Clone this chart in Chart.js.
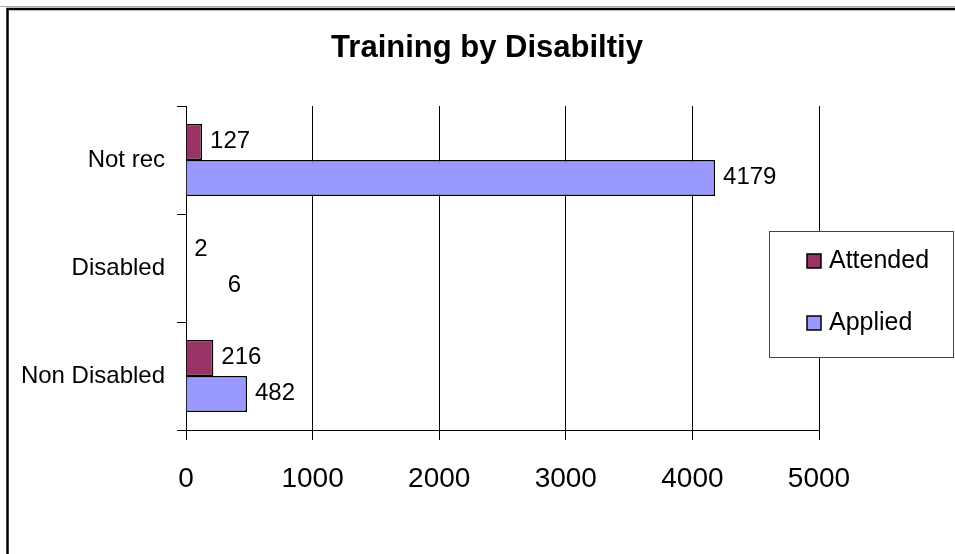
<!DOCTYPE html>
<html>
<head>
<meta charset="utf-8">
<script src="https://cdn.jsdelivr.net/npm/chart.js@4/dist/chart.umd.min.js"></script>
<style>
  html, body { margin: 0; padding: 0; background: #fff; overflow: hidden; }
  #wrap { width: 955px; height: 554px; }
</style>
</head>
<body>
<div id="wrap"><canvas id="myChart" width="955" height="554"></canvas></div>
<script>
// chart values
var categories = ['Not rec', 'Disabled', 'Non Disabled'];
var attended = [127, 2, 216];
var applied = [4179, 6, 482];
var xTicks = [0, 1000, 2000, 3000, 4000, 5000];
var title = 'Training by Disabiltiy';

var FONT = "'Liberation Sans', Arial, sans-serif";

// frame round the whole chart (only top and left are in view) + title
var framePlugin = {
    id: 'frame',
    beforeDraw: (chart) => {
        var ctx = chart.ctx;
        ctx.save();
        ctx.fillStyle = '#fff';
        ctx.fillRect(0, 0, chart.width, chart.height);
        ctx.strokeStyle = '#aaa';
        ctx.lineWidth = 1;
        ctx.beginPath();
        ctx.moveTo(0, 6.5); ctx.lineTo(chart.width, 6.5);
        ctx.stroke();
        ctx.strokeStyle = '#000';
        ctx.lineWidth = 2.5;
        ctx.beginPath();
        ctx.moveTo(chart.width, 9);
        ctx.lineTo(7.5, 9);
        ctx.lineTo(7.5, chart.height);
        ctx.stroke();
        // title is centred over the whole frame, not the plot
        ctx.fillStyle = '#000';
        ctx.font = 'bold 31px ' + FONT;
        ctx.textAlign = 'center';
        ctx.textBaseline = 'alphabetic';
        ctx.fillText(title, 487, 57);
        ctx.restore();
    }
};

// value labels at the end of each bar
// (Excel pushed the tiny "6" label further right; nudge it the same way)
var labelNudge = { '1,1': 33 };
var valuePlugin = {
    id: 'values',
    afterDatasetsDraw: (chart) => {
        var ctx = chart.ctx;
        ctx.save();
        ctx.font = '24px ' + FONT;
        ctx.fillStyle = '#000';
        ctx.textAlign = 'left';
        ctx.textBaseline = 'middle';
        chart.data.datasets.forEach((ds, i) => {
            chart.getDatasetMeta(i).data.forEach((bar, j) => {
                var dx = labelNudge[i + ',' + j] || 0;
                ctx.fillText(String(ds.data[j]), bar.x + 8 + dx, bar.y - 1);
            });
        });
        ctx.restore();
    }
};

// boxed legend sitting over the right part of the plot
var legendBox = {
    id: 'legendBox',
    afterDraw: (chart) => {
        var ctx = chart.ctx;
        var x = 769, y = 231, w = 184, h = 126;
        ctx.save();
        ctx.fillStyle = '#fff';
        ctx.fillRect(x, y, w, h);
        ctx.strokeStyle = '#444';
        ctx.lineWidth = 1;
        ctx.strokeRect(x + 0.5, y + 0.5, w, h);
        ctx.font = '25px ' + FONT;
        ctx.textAlign = 'left';
        ctx.textBaseline = 'middle';
        chart.data.datasets.forEach((ds, i) => {
            var cy = y + 30 + i * 62;
            ctx.fillStyle = ds.backgroundColor;
            ctx.fillRect(807, cy - 7, 14, 14);
            ctx.strokeStyle = '#000';
            ctx.lineWidth = 1.5;
            ctx.strokeRect(807, cy - 7, 14, 14);
            ctx.fillStyle = '#000';
            ctx.fillText(ds.label, 829, cy);
        });
        ctx.restore();
    }
};

var ctx = document.getElementById('myChart').getContext('2d');
var chart = new Chart(ctx, {
    type: 'bar',
    data: {
        labels: categories,
        datasets: [{
            label: 'Attended',
            data: attended,
            backgroundColor: '#993366',
            borderColor: '#000',
            borderWidth: 1.5,
            categoryPercentage: 0.667,
            barPercentage: 1.0
        }, {
            label: 'Applied',
            data: applied,
            backgroundColor: '#9999FF',
            borderColor: '#000',
            borderWidth: 1.5,
            categoryPercentage: 0.667,
            barPercentage: 1.0
        }]
    },
    options: {
        indexAxis: 'y',
        responsive: false,
        animation: false,
        layout: { padding: { left: 0, right: 136, top: 106, bottom: 0 } },
        plugins: {
            legend: { display: false },
            tooltip: { enabled: false },
            title: { display: false }
        },
        scales: {
            x: {
                min: 0,
                max: 5000,
                afterFit: (s) => { s.height = 124; },
                afterBuildTicks: (s) => { s.ticks = xTicks.map(v => ({ value: v })); },
                grid: { color: '#000', lineWidth: 1, drawTicks: true, tickLength: 10, tickColor: '#000' },
                border: { display: true, color: '#000', width: 1 },
                ticks: {
                    color: '#000',
                    font: { family: FONT, size: 28 },
                    padding: 22,
                    maxRotation: 0,
                    callback: (v) => String(v)
                }
            },
            y: {
                afterFit: (s) => { s.width = 186; },
                grid: { drawOnChartArea: false, drawTicks: true, tickLength: 9, tickColor: '#000', offset: true },
                border: { display: true, color: '#000', width: 1 },
                ticks: { color: '#000', font: { family: FONT, size: 24 }, padding: 12 }
            }
        }
    },
    plugins: [framePlugin, valuePlugin, legendBox]
});
</script>
</body>
</html>
